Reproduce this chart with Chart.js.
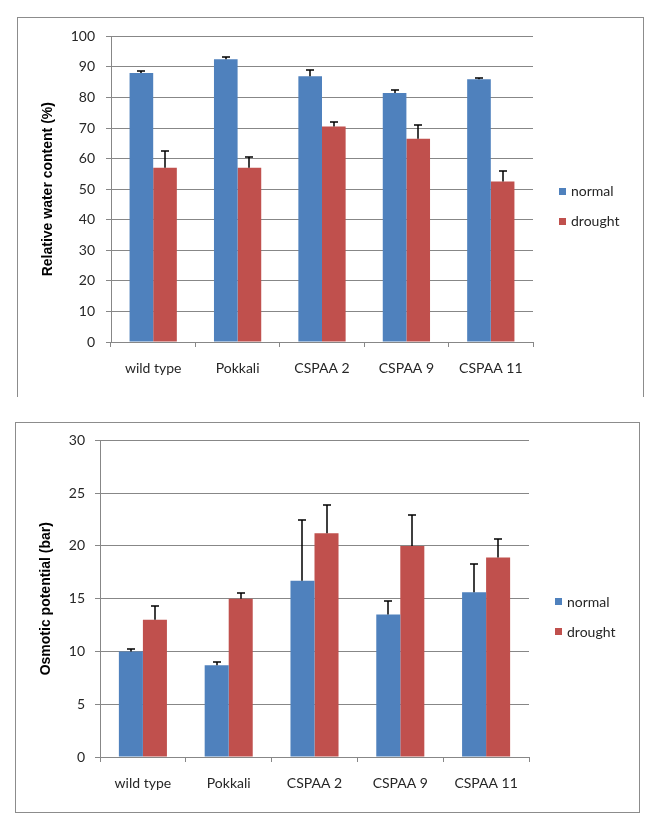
<!DOCTYPE html>
<html>
<head>
<meta charset="utf-8">
<script src="https://cdn.jsdelivr.net/npm/chart.js@4/dist/chart.umd.min.js"></script>
<style>
  body { margin: 0; background: #fff; width: 654px; height: 827px; position: relative; overflow: hidden; }
  .frame { position: absolute; border: 1px solid #8c8c8c; box-sizing: border-box; }
  #f1 { left: 17px; top: 17px; width: 627px; height: 380px; border-bottom: none; }
  #f2 { left: 15px; top: 422px; width: 625px; height: 391px; }
  canvas { position: absolute; }
  #c1 { left: 17px; top: 17px; }
  #c2 { left: 15px; top: 422px; }
</style>
</head>
<body>
<div class="frame" id="f1"></div>
<div class="frame" id="f2"></div>
<canvas id="c1" width="626" height="379"></canvas>
<canvas id="c2" width="624" height="390"></canvas>
<script>
// 品系
const lines = ['wild type', 'Pokkali', 'CSPAA 2', 'CSPAA 9', 'CSPAA 11'];

// 相对含水量 (%)
const rwcNormal = [88, 92.5, 87, 81.5, 86];
const rwcNormalErr = [0.7, 0.7, 2, 1, 0.3];
const rwcDrought = [57, 57, 70.5, 66.5, 52.5];
const rwcDroughtErr = [5.5, 3.5, 1.5, 4.5, 3.5];
const rwcTicks = [0, 10, 20, 30, 40, 50, 60, 70, 80, 90, 100];

// 渗透势 (bar)
const opNormal = [10, 8.7, 16.7, 13.5, 15.6];
const opNormalErr = [0.2, 0.3, 5.8, 1.3, 2.7];
const opDrought = [13, 15, 21.2, 20, 18.9];
const opDroughtErr = [1.3, 0.5, 2.7, 2.9, 1.8];
const opTicks = [0, 5, 10, 15, 20, 25, 30];

const BLUE = '#4f81bd';
const RED = '#c0504d';
const GRID = '#878787';
const TEXT = '#262626';
const FONT = 'Lato, "Open Sans", sans-serif';

// 误差线（只画正方向，带顶帽）
const errorBars = {
  id: 'errorBars',
  afterDatasetsDraw(chart) {
    const ctx = chart.ctx;
    const y = chart.scales.y;
    ctx.save();
    ctx.strokeStyle = '#000';
    ctx.lineWidth = 1.5;
    chart.data.datasets.forEach((ds, i) => {
      const meta = chart.getDatasetMeta(i);
      meta.data.forEach((bar, j) => {
        const top = Math.round(y.getPixelForValue(ds.data[j] + ds.errors[j]));
        const x = Math.round(bar.x);
        ctx.beginPath();
        ctx.moveTo(x, bar.y);
        ctx.lineTo(x, top);
        ctx.moveTo(x - 4, top);
        ctx.lineTo(x + 4, top);
        ctx.stroke();
      });
    });
    ctx.restore();
  }
};

// 右侧图例，仿 Excel 样式
const sideLegend = {
  id: 'sideLegend',
  afterDraw(chart) {
    const ctx = chart.ctx;
    const x0 = chart.chartArea.right + 26;
    const mid = chart.height / 2;
    ctx.save();
    ctx.font = '14px ' + FONT;
    ctx.textBaseline = 'middle';
    chart.data.datasets.forEach((ds, i) => {
      const yy = mid + (i === 0 ? -15 : 15);
      ctx.fillStyle = ds.backgroundColor;
      ctx.fillRect(x0, Math.round(yy - 4), 7, 7);
      ctx.fillStyle = TEXT;
      ctx.fillText(ds.label, x0 + 12, yy);
    });
    ctx.restore();
  }
};

function makeChart(id, opt) {
  new Chart(document.getElementById(id), {
    type: 'bar',
    data: {
      labels: lines,
      datasets: [
        { label: 'normal', data: opt.normal, errors: opt.normalErr, backgroundColor: BLUE },
        { label: 'drought', data: opt.drought, errors: opt.droughtErr, backgroundColor: RED }
      ]
    },
    options: {
      responsive: false,
      animation: false,
      categoryPercentage: 0.56,
      barPercentage: 1,
      layout: { padding: { left: 0, top: opt.top, right: opt.right, bottom: 0 } },
      plugins: { legend: { display: false }, tooltip: { enabled: false } },
      scales: {
        x: {
          grid: { offset: true, drawOnChartArea: false, drawTicks: true, tickLength: 5, color: GRID },
          border: { display: true, color: GRID },
          ticks: { color: TEXT, font: { family: FONT, size: 14 }, padding: 13, maxRotation: 0 },
          afterFit(s) { s.height = opt.xH; }
        },
        y: {
          min: 0,
          max: opt.ticks[opt.ticks.length - 1],
          afterBuildTicks(s) { s.ticks = opt.ticks.map(v => ({ value: v })); },
          grid: { color: GRID, tickLength: 5 },
          border: { display: true, color: GRID },
          ticks: { color: TEXT, font: { family: FONT, size: 14 }, padding: opt.tickPad },
          title: {
            display: true,
            text: opt.title,
            color: '#000',
            font: { family: '"Liberation Sans", Arial, sans-serif', size: 14, weight: 'bold' },
            padding: { top: 23, bottom: 0 }
          },
          afterFit(s) { s.width = opt.yW; }
        }
      }
    },
    plugins: [errorBars, sideLegend]
  });
}

makeChart('c1', {
  normal: rwcNormal, normalErr: rwcNormalErr,
  drought: rwcDrought, droughtErr: rwcDroughtErr,
  ticks: rwcTicks, title: 'Relative water content (%)',
  top: 19, right: 110, xH: 54, yW: 94, tickPad: 11
});

makeChart('c2', {
  normal: opNormal, normalErr: opNormalErr,
  drought: opDrought, droughtErr: opDroughtErr,
  ticks: opTicks, title: 'Osmotic potential (bar)',
  top: 18, right: 110, xH: 55, yW: 85, tickPad: 10
});
</script>
</body>
</html>
